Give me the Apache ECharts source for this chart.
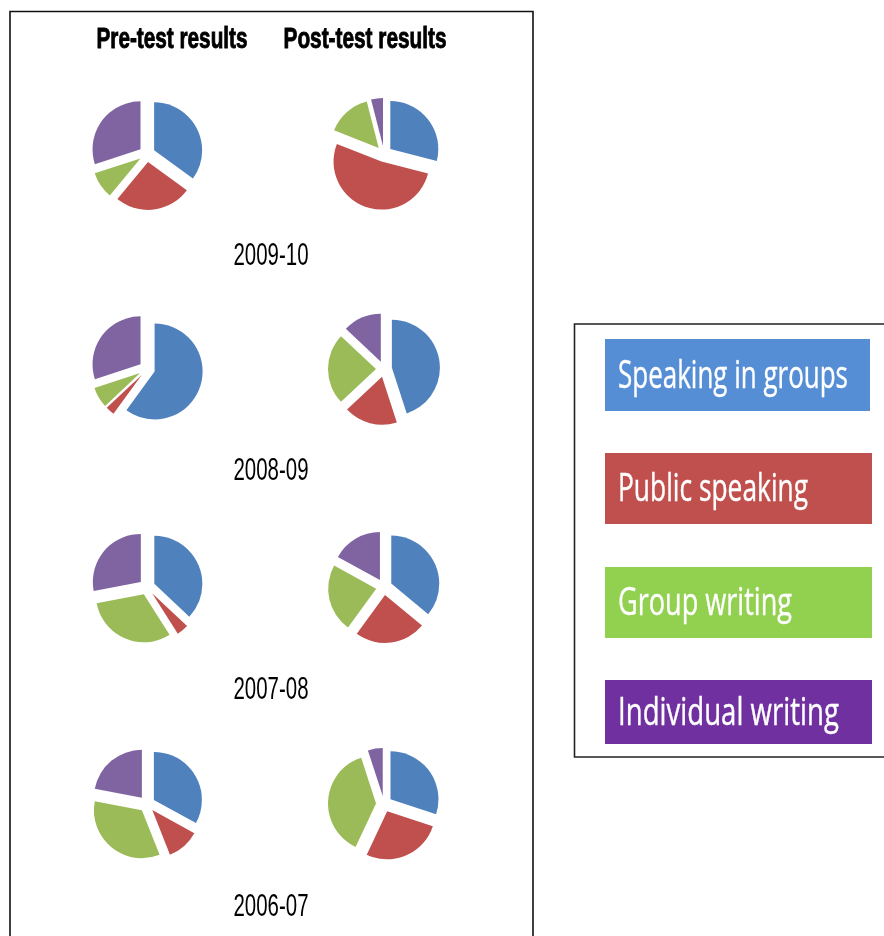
<!DOCTYPE html>
<html><head><meta charset="utf-8">
<script src="https://cdn.jsdelivr.net/npm/echarts@6/dist/echarts.min.js"></script>
<style>html,body{margin:0;padding:0;background:#fff}#c{width:884px;height:936px}</style>
</head><body><div id="c"></div>
<script>
const categories = ['Speaking in groups', 'Public speaking', 'Group writing', 'Individual writing'];
const years = ['2009-10', '2008-09', '2007-08', '2006-07'];
const columnTitles = ['Pre-test results', 'Post-test results'];
const pre0910 = [35, 26, 9, 30];
const pre0809 = [60, 3, 7, 30];
const pre0708 = [37, 4, 31, 28];
const pre0607 = [33, 11, 34, 22];
const post0910 = [29, 52, 15, 4];
const post0809 = [45, 18, 24, 13];
const post0708 = [36, 24, 23, 17];
const post0607 = [30, 27, 38, 5];

const preRows = [pre0910, pre0809, pre0708, pre0607];
const postRows = [post0910, post0809, post0708, post0607];

const pieColors = ['#4F81BD', '#C0504D', '#9BBB59', '#8064A2'];
const legendColors = ['#558ED5', '#C0504D', '#92D050', '#7030A0'];

const rowY = [154, 369, 587, 804];
const preX = 147, postX = 384;
const labelY = [256, 471, 690, 907];

const ctx = document.createElement('canvas').getContext('2d');
function fitScale(text, font, target) {
  ctx.font = font;
  return target / ctx.measureText(text).width;
}

function pieSeries(vals, cx, cy) {
  return {
    type: 'pie',
    center: [cx, cy],
    radius: 48,
    startAngle: 90,
    clockwise: true,
    silent: true,
    selectedMode: 'multiple',
    selectedOffset: 8,
    label: { show: false },
    labelLine: { show: false },
    emphasis: { disabled: true },
    animation: false,
    data: vals.map((v, i) => ({
      name: categories[i], value: v, selected: true,
      itemStyle: { color: pieColors[i] },
      select: { itemStyle: { color: pieColors[i], borderWidth: 0 } }
    }))
  };
}

const series = [];
for (let r = 0; r < 4; r++) {
  series.push(pieSeries(preRows[r], preX, rowY[r]));
  series.push(pieSeries(postRows[r], postX, rowY[r]));
}

const graphics = [];
// main frame
graphics.push({ type: 'rect', shape: { x: 10, y: 11.5, width: 523, height: 940 },
  style: { fill: 'none', stroke: '#111', lineWidth: 1.6 }, silent: true });
// column titles
const titleFont = 'bold 29px "Liberation Sans"';
const titleX = [172, 365];
const titleW = [151, 163];
columnTitles.forEach((t, i) => {
  graphics.push({ type: 'text', x: titleX[i], y: 40, scaleX: fitScale(t, titleFont, titleW[i]),
    style: { text: t, font: titleFont, fill: '#000', stroke: '#000', lineWidth: 0.9,
      align: 'center', verticalAlign: 'middle' }, silent: true });
});
// year labels
const yearFont = '31px "Liberation Sans"';
years.forEach((t, i) => {
  graphics.push({ type: 'text', x: 271, y: labelY[i], scaleX: fitScale(t, yearFont, 75),
    style: { text: t, font: yearFont, fill: '#000', align: 'center', verticalAlign: 'middle' }, silent: true });
});
// legend box
graphics.push({ type: 'rect', shape: { x: 574.5, y: 324, width: 320, height: 433 },
  style: { fill: 'none', stroke: '#222', lineWidth: 1.6 }, silent: true });
const legRects = [[605, 339, 265, 72], [605, 453, 267, 71], [605, 567, 267, 71], [605, 680, 267, 64]];
const legTextW = [230, 190, 174, 221];
const legFont = '38px "Open Sans"';
categories.forEach((c, i) => {
  const [x, y, w, h] = legRects[i];
  graphics.push({ type: 'rect', shape: { x, y, width: w, height: h }, style: { fill: legendColors[i] }, silent: true });
  graphics.push({ type: 'text', x: 618, y: y + h / 2 + 2, scaleX: fitScale(c, legFont, legTextW[i]),
    style: { text: c, font: legFont, fill: '#fff', stroke: '#fff', lineWidth: 0.4,
      align: 'left', verticalAlign: 'middle' }, silent: true });
});

const chart = echarts.init(document.getElementById('c'), null, { renderer: 'canvas' });
chart.setOption({ animation: false, backgroundColor: '#fff', series, graphic: graphics });
</script></body></html>
